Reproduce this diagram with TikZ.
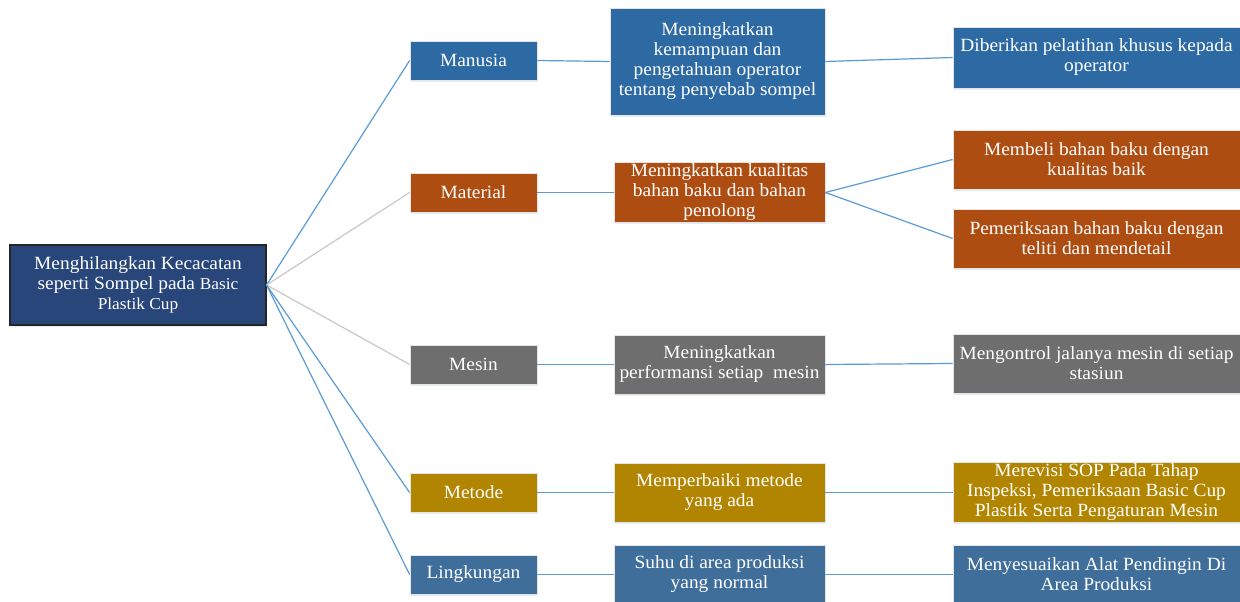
\documentclass[tikz,border=0pt]{standalone}
\usepackage{fontspec}
\setmainfont[FakeStretch=1.04]{Liberation Serif}
\usetikzlibrary{shadows}
\definecolor{cRoot}{HTML}{284679}
\definecolor{cMan}{HTML}{2D69A3}
\definecolor{cMat}{HTML}{AD4D12}
\definecolor{cMes}{HTML}{6E6E6E}
\definecolor{cMet}{HTML}{B28500}
\definecolor{cLin}{HTML}{3F6E9B}
\definecolor{cLine}{HTML}{5B9BD5}
\definecolor{cGrey}{HTML}{C8C8C8}
\tikzset{
  box/.style={rectangle, draw=white!80!gray, line width=0.6pt, text=white, align=center,
    inner sep=1pt, font=\fontsize{14}{15}\selectfont,
    drop shadow={opacity=0.18, shadow xshift=1pt, shadow yshift=-1.5pt, fill=cLine}},
  catbox/.style={box, minimum width=95.25pt, minimum height=29.25pt},
  subbox/.style={box, minimum width=158.25pt, minimum height=44.25pt},
  rbox/.style={box, minimum width=215.25pt, minimum height=44.25pt},
  link/.style={draw=cLine, line width=0.9pt},
  glink/.style={draw=cGrey, line width=0.9pt},
}
\begin{document}
\begin{tikzpicture}[x=0.75pt, y=-0.75pt]
\clip (0,0) rectangle (1240,602);
\fill[white] (0,0) rectangle (1240,602);
% root
\node[box, fill=cRoot, draw=black!85, line width=0.8pt, minimum width=192pt, minimum height=60pt] (root) at (138,285)
  {Menghilangkan Kecacatan\\ seperti Sompel pada {\fontsize{12.5}{15}\selectfont Basic}\\ {\fontsize{12.5}{15}\selectfont Plastik Cup}};
% categories
\node[catbox, fill=cMan] (man) at (473.5,60.5) {Manusia};
\node[catbox, fill=cMat] (mat) at (473.5,192.5) {Material};
\node[catbox, fill=cMes] (mes) at (473.5,364.5) {Mesin};
\node[catbox, fill=cMet] (met) at (473.5,492.5) {Metode};
\node[catbox, fill=cLin] (lin) at (473.5,574.5) {Lingkungan};
% sub boxes
\node[box, fill=cMan, minimum width=161.25pt, minimum height=80.25pt] (mans) at (717.5,61.5)
  {Meningkatkan\\ kemampuan dan\\ pengetahuan operator\\ tentang penyebab sompel};
\node[subbox, fill=cMat] (mats) at (719.5,192.5) {Meningkatkan kualitas\\ bahan baku dan bahan\\ penolong};
\node[subbox, fill=cMes] (mess) at (719.5,364.5) {Meningkatkan\\ performansi setiap\ \ mesin};
\node[subbox, fill=cMet] (mets) at (719.5,492.5) {Memperbaiki metode\\ yang ada};
\node[subbox, fill=cLin] (lins) at (719.5,574.5) {Suhu di area produksi\\ yang normal};
% right boxes
\node[rbox, fill=cMan, minimum height=45.75pt] (manr) at (1096.5,57.5) {Diberikan pelatihan khusus kepada\\ operator};
\node[rbox, fill=cMat] (matr1) at (1096.5,159.5) {Membeli bahan baku dengan\\ kualitas baik};
\node[rbox, fill=cMat] (matr2) at (1096.5,238.5) {Pemeriksaan bahan baku dengan\\ teliti dan mendetail};
\node[rbox, fill=cMes] (mesr) at (1096.5,363.5) {Mengontrol jalanya mesin di setiap\\ stasiun};
\node[rbox, fill=cMet] (metr) at (1096.5,492.5) {Merevisi SOP Pada Tahap\\ Inspeksi, Pemeriksaan Basic Cup\\ Plastik Serta Pengaturan Mesin};
\node[rbox, fill=cLin] (linr) at (1096.5,574.5) {Menyesuaikan Alat Pendingin Di\\ Area Produksi};
% connectors
\draw[link] (root.east) -- (man.west);
\draw[glink] (root.east) -- (mat.west);
\draw[glink] (root.east) -- (mes.west);
\draw[link] (root.east) -- (met.west);
\draw[link] (root.east) -- (lin.west);
\draw[link] (man.east) -- (mans.west);
\draw[link] (mat.east) -- (mats.west);
\draw[link] (mes.east) -- (mess.west);
\draw[link] (met.east) -- (mets.west);
\draw[link] (lin.east) -- (lins.west);
\draw[link] (mans.east) -- (manr.west);
\draw[link] (mats.east) -- (matr1.west);
\draw[link] (mats.east) -- (matr2.west);
\draw[link] (mess.east) -- (mesr.west);
\draw[link] (mets.east) -- (metr.west);
\draw[link] (lins.east) -- (linr.west);
\end{tikzpicture}
\end{document}
